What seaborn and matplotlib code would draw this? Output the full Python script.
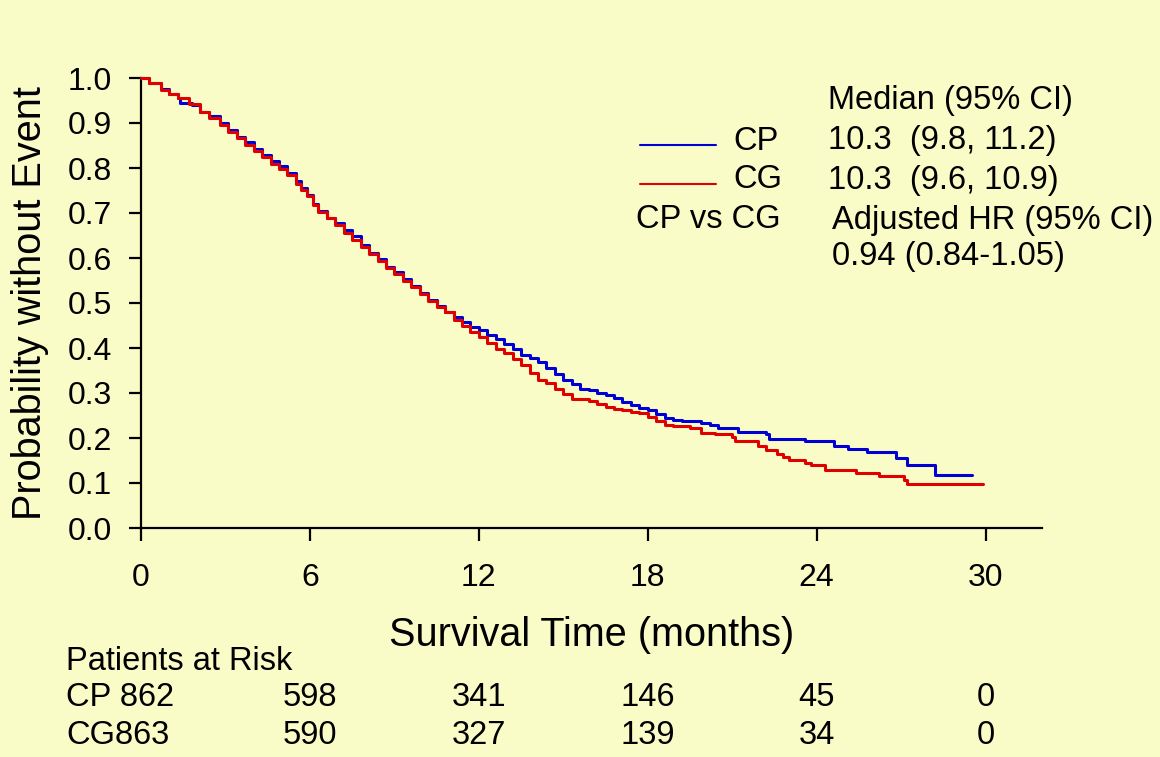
import matplotlib
matplotlib.use("Agg")
import matplotlib.pyplot as plt
import matplotlib.transforms as mtransforms
from matplotlib.lines import Line2D
import numpy as np
import pandas as pd
import seaborn as sns

# ---------------- data ----------------
cp_time = [0, 0.3, 0.7, 1.0, 1.3, 1.4, 1.8, 2.1, 2.4, 2.8, 3.1, 3.4, 3.7, 4.0, 4.3,
           4.6, 4.9, 5.2, 5.5, 5.7, 5.9, 6.1, 6.3, 6.6, 6.9, 7.2, 7.5, 7.8, 8.1,
           8.4, 8.7, 9.0, 9.3, 9.6, 9.9, 10.2, 10.5, 10.8, 11.1, 11.4, 11.7, 12.0,
           12.3, 12.6, 12.9, 13.2, 13.5, 13.8, 14.1, 14.4, 14.7, 15.0, 15.3, 15.6,
           15.9, 16.2, 16.5, 16.8, 17.1, 17.4, 17.7, 18.0, 18.3, 18.6, 18.9, 19.2,
           19.9, 20.2, 20.5, 21.2, 22.2, 22.3, 23.6, 24.6, 25.1, 25.8, 26.8, 27.2,
           28.2, 29.5]
cp_surv = [1.0, 0.99, 0.975, 0.965, 0.955, 0.945, 0.94, 0.925, 0.915, 0.90, 0.885,
           0.87, 0.858, 0.843, 0.83, 0.815, 0.805, 0.79, 0.772, 0.755, 0.74, 0.72,
           0.705, 0.69, 0.678, 0.662, 0.648, 0.63, 0.612, 0.597, 0.58, 0.568, 0.553,
           0.538, 0.522, 0.507, 0.493, 0.48, 0.468, 0.457, 0.447, 0.44, 0.43, 0.42,
           0.41, 0.397, 0.385, 0.377, 0.37, 0.355, 0.343, 0.33, 0.32, 0.31, 0.306,
           0.30, 0.295, 0.288, 0.28, 0.273, 0.267, 0.262, 0.253, 0.245, 0.24, 0.237,
           0.234, 0.228, 0.222, 0.214, 0.208, 0.198, 0.193, 0.182, 0.176, 0.170,
           0.156, 0.141, 0.118, 0.118]

cg_time = [0, 0.3, 0.7, 1.0, 1.3, 1.7, 2.1, 2.4, 2.8, 3.1, 3.4, 3.7, 4.0, 4.3, 4.6,
           4.9, 5.2, 5.5, 5.7, 5.9, 6.1, 6.3, 6.6, 6.9, 7.2, 7.5, 7.8, 8.1, 8.4,
           8.7, 9.0, 9.3, 9.6, 9.9, 10.2, 10.5, 10.8, 11.1, 11.4, 11.7, 12.0, 12.3,
           12.6, 12.9, 13.2, 13.5, 13.8, 14.1, 14.4, 14.7, 15.0, 15.3, 15.9, 16.2,
           16.5, 16.8, 17.1, 17.4, 17.7, 18.0, 18.3, 18.6, 18.9, 19.5, 19.9, 20.4,
           21.0, 21.1, 21.9, 22.2, 22.6, 22.8, 23.0, 23.6, 23.8, 24.3, 25.4, 26.2,
           27.1, 27.2, 29.9]
cg_surv = [1.0, 0.99, 0.973, 0.965, 0.955, 0.942, 0.925, 0.912, 0.895, 0.88, 0.866,
           0.852, 0.838, 0.825, 0.81, 0.798, 0.785, 0.765, 0.752, 0.737, 0.718,
           0.702, 0.688, 0.674, 0.655, 0.64, 0.625, 0.608, 0.594, 0.578, 0.565,
           0.55, 0.535, 0.52, 0.505, 0.492, 0.48, 0.463, 0.45, 0.435, 0.425, 0.412,
           0.398, 0.388, 0.375, 0.362, 0.345, 0.33, 0.322, 0.31, 0.298, 0.287,
           0.282, 0.275, 0.27, 0.265, 0.262, 0.258, 0.255, 0.247, 0.237, 0.23,
           0.226, 0.222, 0.212, 0.21, 0.202, 0.194, 0.182, 0.173, 0.165, 0.158,
           0.151, 0.145, 0.14, 0.128, 0.123, 0.116, 0.107, 0.098, 0.098]

groups = ["CP", "CG"]
group_colors = ["#0000D2", "#E00000"]
median_text = ["10.3  (9.8, 11.2)", "10.3  (9.6, 10.9)"]
hr_text = "0.94 (0.84-1.05)"

x_ticks = [0, 6, 12, 18, 24, 30]
y_ticks = [0.0, 0.1, 0.2, 0.3, 0.4, 0.5, 0.6, 0.7, 0.8, 0.9, 1.0]
risk_times = [6, 12, 18, 24, 30]
risk_start = [862, 863]
risk_cp = [598, 341, 146, 45, 0]
risk_cg = [590, 327, 139, 34, 0]

# ---------------- style ----------------
BG = "#FAFCC8"
sns.set_style("ticks")
plt.rcParams["font.family"] = ["Liberation Sans", "DejaVu Sans"]
plt.rcParams["text.color"] = "black"
plt.rcParams["axes.labelcolor"] = "black"
plt.rcParams["xtick.color"] = "black"
plt.rcParams["ytick.color"] = "black"

W, H = 1160, 757
fig = plt.figure(figsize=(W / 100, H / 100), dpi=100, facecolor=BG)
ax = fig.add_axes([141 / W, 1 - 528 / H, (1042 - 141) / W, (528 - 78) / H])
ax.set_facecolor(BG)

df = pd.concat([
    pd.DataFrame({"time": cp_time, "surv": cp_surv, "group": "CP"}),
    pd.DataFrame({"time": cg_time, "surv": cg_surv, "group": "CG"}),
])
sns.lineplot(data=df, x="time", y="surv", hue="group", hue_order=groups,
             palette=dict(zip(groups, group_colors)), estimator=None,
             drawstyle="steps-post", linewidth=2.2, legend=False, ax=ax,
             clip_on=False, zorder=3)

ax.set_xlim(0, 32)
ax.set_ylim(0, 1)
ax.set_xticks(x_ticks)
ax.set_xticklabels([str(v) for v in x_ticks])
ax.set_yticks(y_ticks)
ax.set_yticklabels([f"{v:.1f}" for v in y_ticks])
for s in ["top", "right"]:
    ax.spines[s].set_visible(False)
for s in ["left", "bottom"]:
    ax.spines[s].set_linewidth(1.6)
    ax.spines[s].set_color("black")
ax.tick_params(axis="both", direction="out", length=9, width=1.6, colors="black",
               labelcolor="black", labelsize=23)
ax.tick_params(axis="x", pad=16)
ax.tick_params(axis="y", pad=12)

ax.set_xlabel("Survival Time (months)", fontsize=28.5, color="black")
ax.xaxis.set_label_coords(0.5, -0.195)
ax.set_ylabel("Probability without Event", fontsize=28.5, color="black")
ax.yaxis.set_label_coords(-0.102, 0.5)

def ftext(x, y, s, **kw):
    kw.setdefault("fontsize", 23.5)
    kw.setdefault("va", "center")
    kw.setdefault("ha", "left")
    kw.setdefault("color", "black")
    fig.text(x / W, 1 - y / H, s, **kw)

# legend / annotation block
ftext(828, 100, "Median (95% CI)")
rows_y = [141, 180]
for g, c, mt, yy in zip(groups, group_colors, median_text, rows_y):
    fig.add_artist(Line2D([640 / W, 716 / W], [1 - (yy + 4) / H, 1 - (yy + 4) / H],
                          color=c, linewidth=1.5, transform=fig.transFigure))
    ftext(733, yy, g)
    ftext(828, yy, mt)
ftext(636, 220, "CP vs CG")
ftext(832, 220, "Adjusted HR (95% CI)")
ftext(832, 257, hr_text)

# number at risk table
ftext(66, 662, "Patients at Risk")
ftext(66, 697, "CP 862")
ftext(66, 735, "CG863")
trans = mtransforms.blended_transform_factory(ax.transData, fig.transFigure)
for row_vals, yy in zip([risk_cp, risk_cg], [697, 735]):
    for t, v in zip(risk_times, row_vals):
        ax.text(t, 1 - yy / H, str(v), transform=trans, ha="center", va="center",
                fontsize=23.5, color="black", clip_on=False)

fig.savefig("out.png", dpi=100, facecolor=BG)
